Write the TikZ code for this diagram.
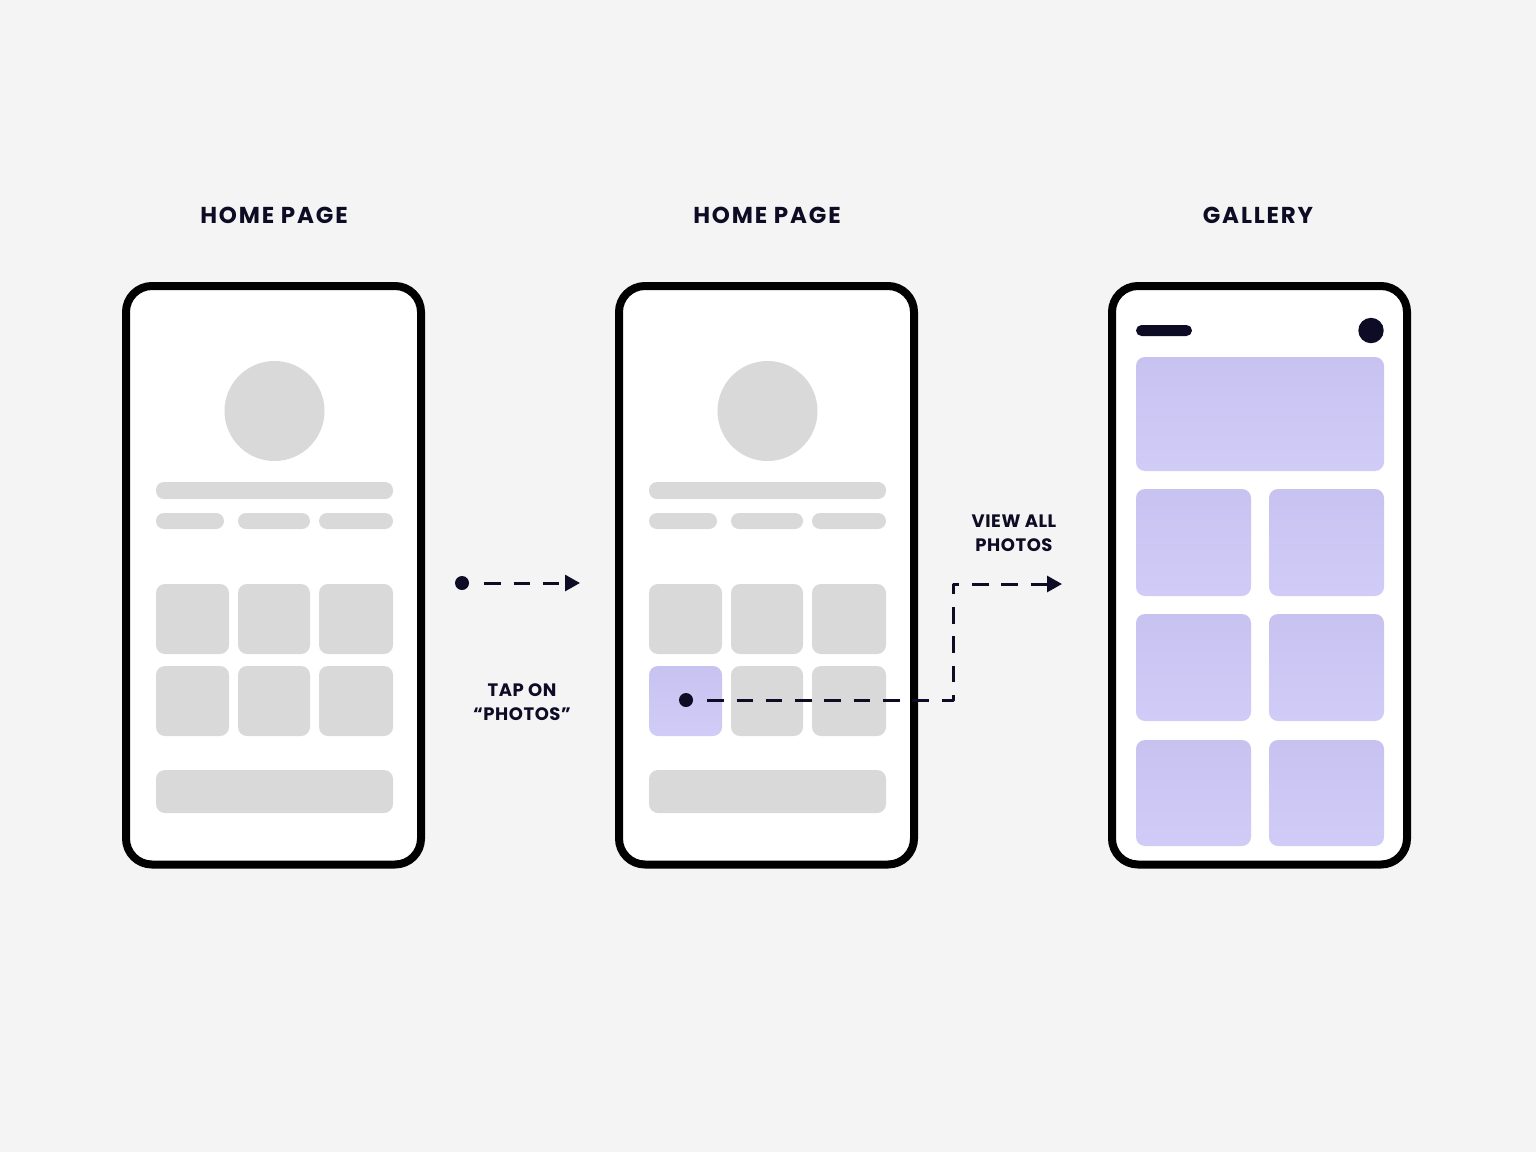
\documentclass[tikz,border=0pt]{standalone}
\usepackage{fontspec}
\setmainfont{Poppins}
\usetikzlibrary{arrows.meta}
\definecolor{bg}{HTML}{F4F4F4}
\definecolor{ink}{HTML}{0E0C25}
\definecolor{ph}{HTML}{D9D9D9}
\definecolor{lavtop}{HTML}{C8C2F0}
\definecolor{lavbot}{HTML}{D0CCF7}
\tikzset{
  phone/.style={draw=black, fill=white, line width=8pt, rounded corners=26pt,
    minimum width=295pt, minimum height=578.5pt, inner sep=0pt},
  block/.style={fill=ph, rounded corners=9pt},
  pill/.style={fill=ph, rounded corners=8pt},
  lavblock/.style={top color=lavtop, bottom color=lavbot, rounded corners=9pt},
  title/.style={text=ink, font=\bfseries\fontsize{23}{28}\selectfont\addfontfeature{LetterSpace=8}, anchor=base},
  caption/.style={text=ink, font=\bfseries\fontsize{18}{24}\selectfont\addfontfeature{LetterSpace=3}, align=center, anchor=base},
  dot/.style={circle, fill=ink, inner sep=0pt, minimum size=14pt},
  flow/.style={draw=ink, line width=3pt, dash pattern=on 16.5pt off 12.8pt, line join=round,
    -{Triangle[length=15pt,width=16pt]}},
}
\begin{document}
\begin{tikzpicture}[x=1pt,y=-1pt]
\useasboundingbox (0,0) rectangle (1536,1152);
\fill[bg] (0,0) rectangle (1536,1152);

% titles
\node[title] (t1) at (274,223) {HOME PAGE};
\node[title] (t2) at (767,223) {HOME PAGE};
\node[title] (t3) at (1258,223) {GALLERY};

% phones
\node[phone] (p1) at (273.5,575.25) {};
\node[phone] (p2) at (766.5,575.25) {};
\node[phone] (p3) at (1259.5,575.25) {};

% home screens
\foreach \dx/\lav in {0/0,493/1}{
\begin{scope}[xshift=\dx pt]
  \fill[ph] (274.5,411) circle (50);
  \fill[pill] (156,482) rectangle (393,499);
  \fill[pill] (156,513) rectangle (224,529);
  \fill[pill] (238,513) rectangle (310,529);
  \fill[pill] (319,513) rectangle (393,529);
  \fill[block] (156,584) rectangle (229,654);
  \fill[block] (238,584) rectangle (310,654);
  \fill[block] (319,584) rectangle (393,654);
  \ifnum\lav=1
    \path[lavblock] (156,666) rectangle (229,736);
  \else
    \fill[block] (156,666) rectangle (229,736);
  \fi
  \fill[block] (238,666) rectangle (310,736);
  \fill[block] (319,666) rectangle (393,736);
  \fill[block] (156,770) rectangle (393,813);
\end{scope}
}

% gallery screen
\fill[ink, rounded corners=5.5pt] (1136,325) rectangle (1192,336);
\fill[ink] (1371,330.5) circle (12.7);
\path[lavblock] (1136,357) rectangle (1384,471);
\foreach \ya/\yb in {489/596, 614/721, 740/846}{
  \path[lavblock] (1136,\ya) rectangle (1251,\yb);
  \path[lavblock] (1269,\ya) rectangle (1384,\yb);
}

% connectors
\node[dot] (d1) at (462,583) {};
\coordinate (e1) at (580,583);
\draw[flow, shorten <=15pt] (d1.east) -- (e1);

\node[dot] (d2) at (686,700) {};
\coordinate (c1) at (953,700);
\coordinate (c2) at (953,584);
\coordinate (e2) at (1062,584);
\draw[flow, shorten <=14pt] (d2.east) -- (c1) -- (c2) -- (e2);

% captions
\node[caption] (l1) at (522,720) {TAP ON\\“PHOTOS”};
\node[caption] (l2) at (1014,551) {VIEW ALL\\PHOTOS};
\end{tikzpicture}
\end{document}
